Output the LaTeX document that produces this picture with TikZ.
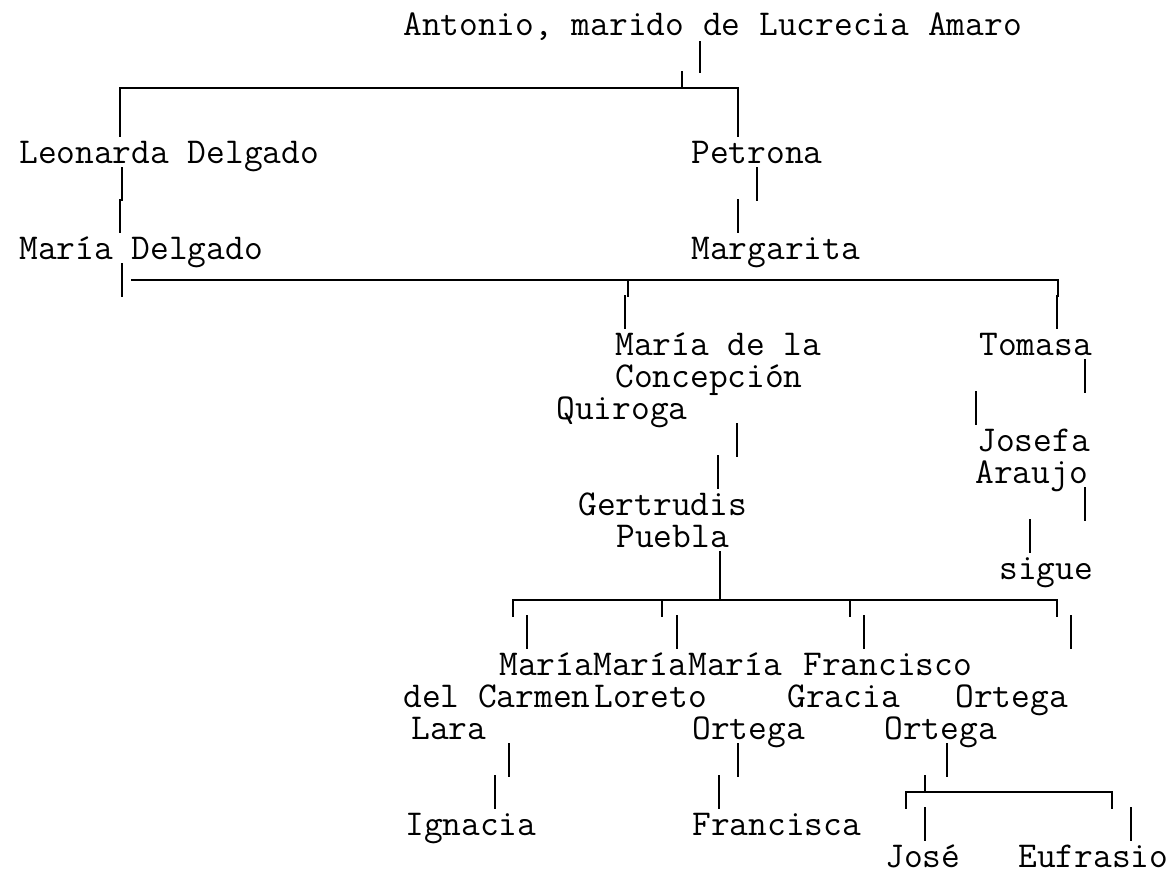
\documentclass[tikz,border=0pt]{standalone}
\usepackage{fontspec}
\begin{document}
\begin{tikzpicture}[x=0.75pt,y=-0.75pt,
  lbl/.style={anchor=base west,inner sep=0pt,text height=0.6em,text depth=0.05em,font=\ttfamily\fontsize{27.3}{30}\selectfont},
  ln/.style={line width=1.8pt,line cap=rect}]
\useasboundingbox (0,0) rectangle (1172,875);
% row baseline b(n)=35+32n
\node[lbl] (antonio) at (403,35) {Antonio, marido de Lucrecia Amaro};
\node[lbl] (leonarda) at (19,163) {Leonarda Delgado};
\node[lbl] (petrona) at (691,163) {Petrona};
\node[lbl] (mariad) at (19,259) {María Delgado};
\node[lbl] (margarita) at (691,259) {Margarita};
\node[lbl] (mc1) at (615,355) {María de la};
\node[lbl] (mc2) at (615,387) {Concepción};
\node[lbl] (mc3) at (556,419) {Quiroga};
\node[lbl] (tomasa) at (979,355) {Tomasa};
\node[lbl] (jos1) at (977,451) {Josefa};
\node[lbl] (jos2) at (975,483) {Araujo};
\node[lbl] (ger1) at (578,515) {Gertrudis};
\node[lbl] (ger2) at (616,547) {Puebla};
\node[lbl] (sigue) at (999,579) {sigue};
\node[lbl] (ma1) at (499,675) {María};
\node[lbl] (ma2) at (593,675) {María};
\node[lbl] (ma3) at (688,675) {María};
\node[lbl] (fr1) at (803,675) {Francisco};
\node[lbl] (ma1b) at (403,707) {del Carmen};
\node[lbl] (ma2b) at (594,707) {Loreto};
\node[lbl] (fr2) at (787,707) {Gracia};
\node[lbl] (ort) at (955,707) {Ortega};
\node[lbl] (ma1c) at (411,739) {Lara};
\node[lbl] (ma3c) at (692,739) {Ortega};
\node[lbl] (fr3) at (884,739) {Ortega};
\node[lbl] (ignacia) at (405,835) {Ignacia};
\node[lbl] (francisca) at (692,835) {Francisca};
\node[lbl] (jose) at (885,867) {José};
\node[lbl] (eufrasio) at (1018,867) {Eufrasio};
% connectors
\draw[ln] (700,42) -- (700,72);
\draw[ln] (682,72) -- (682,88);
\draw[ln] (120,136) -- (120,88) -- (738,88) -- (738,136);
\draw[ln] (757,168) -- (757,200);
\draw[ln] (738,200) -- (738,232);
\draw[ln] (122,168) -- (122,200);
\draw[ln] (120,200) -- (120,232);
\draw[ln] (122,264) -- (122,296);
\draw[ln] (132,280) -- (1058,280) -- (1058,296);
\draw[ln] (628,280) -- (628,296);
\draw[ln] (625,296) -- (625,328);
\draw[ln] (1057,296) -- (1057,328);
\draw[ln] (1085,360) -- (1085,392);
\draw[ln] (976,392) -- (976,424);
\draw[ln] (737,424) -- (737,456);
\draw[ln] (718,456) -- (718,488);
\draw[ln] (1085,488) -- (1085,520);
\draw[ln] (1030,520) -- (1030,552);
\draw[ln] (720,552) -- (720,600);
\draw[ln] (513,616) -- (513,600) -- (1057,600) -- (1057,616);
\draw[ln] (662,600) -- (662,616);
\draw[ln] (850,600) -- (850,616);
\draw[ln] (527,616) -- (527,648);
\draw[ln] (677,616) -- (677,648);
\draw[ln] (864,616) -- (864,648);
\draw[ln] (1071,616) -- (1071,648);
\draw[ln] (509,744) -- (509,776);
\draw[ln] (495,776) -- (495,808);
\draw[ln] (738,744) -- (738,776);
\draw[ln] (719,776) -- (719,808);
\draw[ln] (947,744) -- (947,776);
\draw[ln] (925,776) -- (925,792);
\draw[ln] (906,808) -- (906,792) -- (1112,792) -- (1112,808);
\draw[ln] (925,808) -- (925,840);
\draw[ln] (1131,808) -- (1131,840);
\end{tikzpicture}
\end{document}
